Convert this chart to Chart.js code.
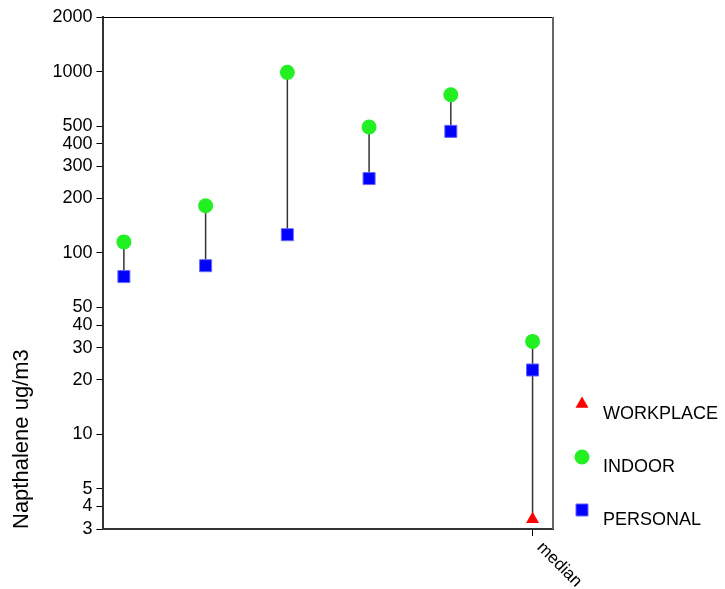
<!DOCTYPE html>
<html>
<head>
<meta charset="utf-8">
<script src="https://cdn.jsdelivr.net/npm/chart.js@4/dist/chart.umd.min.js"></script>
<style>
  html, body { margin: 0; padding: 0; background: #fff; }
  #wrap { width: 725px; height: 589px; }
</style>
</head>
<body>
<div id="wrap"><canvas id="chart"></canvas></div>
<script>
// data
var groups = [0, 1, 2, 3, 4, 5];
var xLabels = ["", "", "", "", "", "median"];
var indoor = [115, 182, 990, 495, 745, 32.5];
var personal = [74, 85, 126, 257, 468, 22.6];
var workplace = [null, null, null, null, null, 3.4];
var seriesNames = ["WORKPLACE", "INDOOR", "PERSONAL"];
var yTicks = [3, 4, 5, 10, 20, 30, 40, 50, 100, 200, 300, 400, 500, 1000, 2000];

var FONT = "'Liberation Sans', Arial, sans-serif";

function pts(vals) {
    var out = [];
    for (var i = 0; i < groups.length; i++) {
        if (vals[i] != null) out.push({ x: groups[i], y: vals[i] });
    }
    return out;
}

// vertical drop lines: from indoor down to lowest value of the group
var dropLines = [];
for (var i = 0; i < groups.length; i++) {
    var low = personal[i];
    if (workplace[i] != null && workplace[i] < low) low = workplace[i];
    dropLines.push({ x: groups[i], y: indoor[i] });
    dropLines.push({ x: groups[i], y: low });
    dropLines.push({ x: groups[i], y: null });
}

function drawMark(ctx, style, r, x, y) {
    if (style === "circle") {
        ctx.arc(x, y, r, 0, Math.PI * 2);
    } else if (style === "rect") {
        var s = Math.SQRT1_2 * r;
        ctx.rect(x - s, y - s, 2 * s, 2 * s);
    } else {
        ctx.moveTo(x, y - r);
        ctx.lineTo(x + r * Math.sin(Math.PI / 3), y + r / 2);
        ctx.lineTo(x - r * Math.sin(Math.PI / 3), y + r / 2);
        ctx.closePath();
    }
}

// frame, rotated x label and the legend on the right
var extras = {
    id: "extras",
    afterDraw: function (chart) {
        var ctx = chart.ctx, a = chart.chartArea;
        ctx.save();
        ctx.strokeStyle = "#000";
        ctx.lineWidth = 1;
        ctx.beginPath();
        ctx.moveTo(a.left, a.top + 0.5);
        ctx.lineTo(a.right, a.top + 0.5);
        ctx.stroke();
        ctx.strokeStyle = "#666";
        ctx.lineWidth = 2;
        ctx.beginPath();
        ctx.moveTo(a.right, a.top);
        ctx.lineTo(a.right, a.bottom);
        ctx.stroke();

        // x labels rotated down to the right
        var xs = chart.scales.x;
        ctx.fillStyle = "#000";
        ctx.font = "17px " + FONT;
        ctx.textAlign = "left";
        ctx.textBaseline = "middle";
        for (var i = 0; i < groups.length; i++) {
            if (!xLabels[i]) continue;
            var px = xs.getPixelForValue(groups[i]);
            ctx.save();
            ctx.translate(px + 7, a.bottom + 16);
            ctx.rotate(Math.PI / 4);
            ctx.fillText(xLabels[i], 0, 0);
            ctx.restore();
        }

        // legend
        var lx = a.right + 29, ly = 404, gap = 53;
        ctx.font = "18px " + FONT;
        for (var k = 0; k < seriesNames.length; k++) {
            var ds = chart.data.datasets[k];
            var y = ly + k * gap;
            ctx.fillStyle = ds.backgroundColor;
            ctx.strokeStyle = ds.borderColor;
            ctx.lineWidth = ds.borderWidth;
            ctx.beginPath();
            drawMark(ctx, ds.pointStyle, ds.pointRadius, lx, y);
            ctx.fill();
            if (ds.borderWidth) ctx.stroke();
            ctx.fillStyle = "#000";
            ctx.fillText(ds.label, lx + 21, y + 10);
        }
        ctx.restore();
    }
};

new Chart(document.getElementById("chart"), {
    type: "scatter",
    data: {
        datasets: [
            {
                label: seriesNames[0],
                data: pts(workplace),
                pointStyle: "triangle",
                pointRadius: 7.5,
                backgroundColor: "#ff0000",
                borderColor: "#ff0000",
                borderWidth: 0,
                order: 1
            },
            {
                label: seriesNames[1],
                data: pts(indoor),
                pointStyle: "circle",
                pointRadius: 7.5,
                backgroundColor: "#22f022",
                borderColor: "#22f022",
                borderWidth: 0,
                order: 1
            },
            {
                label: seriesNames[2],
                data: pts(personal),
                pointStyle: "rect",
                pointRadius: 8.5,
                backgroundColor: "#0000ff",
                borderColor: "#6666ff",
                borderWidth: 1,
                order: 1
            },
            {
                type: "line",
                label: "range",
                data: dropLines,
                showLine: true,
                spanGaps: false,
                borderColor: "#333",
                borderWidth: 1.5,
                pointRadius: 0,
                order: 10
            }
        ]
    },
    options: {
        responsive: true,
        maintainAspectRatio: false,
        animation: false,
        events: [],
        layout: { padding: { left: 9, right: 172, top: 17, bottom: 53 } },
        plugins: { legend: { display: false }, tooltip: { enabled: false } },
        scales: {
            x: {
                type: "linear",
                min: -0.25,
                max: 5.25,
                afterBuildTicks: function (scale) {
                    scale.ticks = [{ value: 5 }];
                },
                ticks: { display: false },
                grid: { drawOnChartArea: false, tickLength: 7, color: "#000", tickWidth: 1 },
                border: { display: true, color: "#333", width: 2 }
            },
            y: {
                type: "logarithmic",
                min: 3,
                max: 2000,
                afterBuildTicks: function (scale) {
                    scale.ticks = yTicks.map(function (v) { return { value: v }; });
                },
                ticks: {
                    autoSkip: false,
                    color: "#000",
                    padding: 4,
                    font: { family: FONT, size: 18 },
                    callback: function (v) { return String(v); }
                },
                grid: { drawOnChartArea: false, tickLength: 7, color: "#000", tickWidth: 1 },
                border: { display: true, color: "#333", width: 2 },
                title: {
                    display: true,
                    text: "Napthalene ug/m3",
                    align: "start",
                    color: "#000",
                    font: { family: FONT, size: 22 },
                    padding: { top: 0, bottom: 13 }
                }
            }
        }
    },
    plugins: [extras]
});
</script>
</body>
</html>
